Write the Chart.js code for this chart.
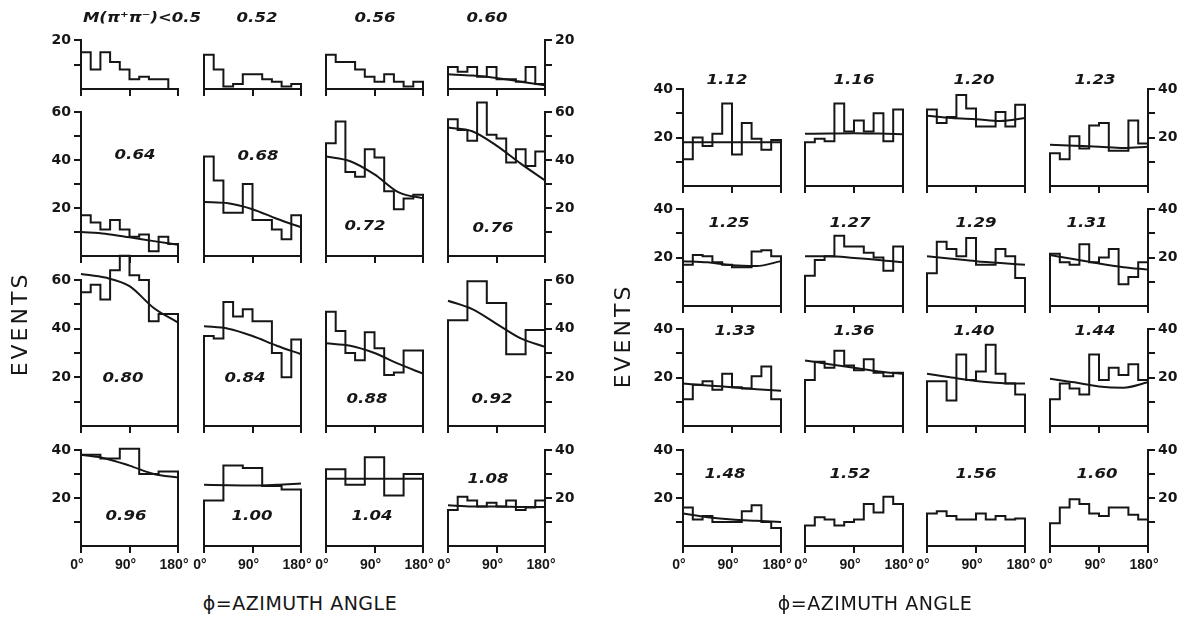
<!DOCTYPE html>
<html>
<head>
<meta charset="utf-8">
<script src="https://cdn.jsdelivr.net/npm/chart.js@4.4.1/dist/chart.umd.min.js"></script>
<style>
  html, body { margin: 0; padding: 0; background: #fff; }
  #page { position: relative; width: 1183px; height: 620px; overflow: hidden; background: #fff; }
  #page canvas { position: absolute; }
  .mass {
    position: absolute; white-space: nowrap; color: #161616;
    font: italic bold 14px "DejaVu Sans", sans-serif;
    transform: translate(-50%, -50%) scaleX(1.18);
  }
  .ytitle {
    position: absolute; white-space: nowrap; color: #161616;
    font: 22px "DejaVu Sans", sans-serif; letter-spacing: 3px;
    transform: translate(-50%, -50%) rotate(-90deg);
  }
  .xtitle {
    position: absolute; white-space: nowrap; color: #161616;
    font: 19px "DejaVu Sans", sans-serif; letter-spacing: 0.5px;
    transform: translate(-50%, -50%);
  }
</style>
</head>
<body>
<div id="page"></div>
<script>
// ---- azimuthal distributions, events per bin (bins span 0°..180°) ----
const h050 = [15, 8, 15, 11, 8, 4, 5, 4, 4, 0];
const h052 = [14, 8, 1, 2, 6, 6, 4, 3, 1, 2];
const h056 = [14, 11, 11, 8, 5, 3, 6, 3, 1, 3];
const h060 = [9, 7, 9, 5, 9, 4, 4, 3, 9, 2];
const h064 = [17, 14, 11, 15, 11, 8, 9, 2, 8, 5];
const h068 = [41.5, 31.5, 18, 18, 30, 15, 15, 11, 7, 17];
const h072 = [47, 56, 35, 33, 44.5, 41, 27, 19.5, 24, 25.5];
const h076 = [57, 52.5, 48, 64, 50.5, 49, 39, 44.5, 37.5, 43.5];
const h080 = [55, 58, 52, 64, 70, 62, 60, 43, 46, 46];
const h084 = [37, 36, 51, 45, 48, 43, 43, 30, 20, 35.5];
const h088 = [47, 39, 30, 27, 38.5, 32, 21, 22, 31, 31];
const h092 = [43.5, 59.5, 50.5, 29.5, 39.5];
const h096 = [38, 36.5, 40.5, 30, 31];
const h100 = [19, 33.5, 32.5, 25, 23.5];
const h104 = [32, 25.5, 37, 21, 30];
const h108 = [15, 20.5, 19, 16.5, 18, 16.5, 19, 15, 16, 19];

const h112 = [11, 20, 16.5, 21.5, 34, 13, 26, 19.5, 15, 19];
const h116 = [18, 19.5, 18.5, 34, 22.5, 27, 22.5, 30, 18.5, 31.5];
const h120 = [31.5, 26, 28.5, 37.5, 32, 24.5, 24.5, 30.5, 24.5, 33.5];
const h123 = [13.5, 11, 20.5, 15.5, 25, 26, 14.5, 14.5, 27, 17.5];
const h125 = [17, 21, 20.5, 18, 17, 16, 16, 22.5, 23, 20.5];
const h127 = [12.5, 19, 20.5, 29, 24.5, 24.5, 22, 20, 14.5, 24.5];
const h129 = [13.5, 26.5, 23.5, 20.5, 28, 17, 17, 23.5, 20.5, 11.5];
const h131 = [21.5, 18, 17, 25.5, 18, 20, 23.5, 9, 12, 18];
const h133 = [11, 17, 18.5, 15, 21.5, 16, 15.5, 20.5, 24.5, 11];
const h136 = [19, 26.5, 24, 31, 25, 23, 27.5, 22, 20.5, 22];
const h140 = [18.5, 18.5, 10.5, 29.5, 19, 22.5, 33.5, 21.5, 17.5, 13];
const h144 = [11, 17.5, 15.5, 13, 29.5, 19, 24, 21, 25.5, 19];
const h148 = [16, 11, 12.5, 10, 10, 10, 14.5, 17, 10, 7.5];
const h152 = [8.5, 12, 11, 8.5, 10, 11, 17.5, 14, 20.5, 17.5];
const h156 = [13.5, 14.5, 12.5, 11, 11, 13.5, 11, 12.5, 11, 11.5];
const h160 = [9.5, 16, 19.5, 17.5, 13.5, 12.5, 16, 16, 13, 11];

// ---- fitted curves, sampled at fitAngles ----
const fitAngles = [0, 45, 90, 135, 180];
const f060 = [6, 5.5, 4.5, 3, 1.5];
const f064 = [10, 9.3, 7.8, 6.2, 4.7];
const f068 = [22.5, 22, 19.5, 15.5, 12];
const f072 = [41.5, 39.5, 34, 26.5, 24];
const f076 = [53.5, 52, 46, 38.5, 31.5];
const f080 = [62.5, 61, 57.5, 48.5, 42.5];
const f084 = [41, 40, 37, 33, 29.5];
const f088 = [34, 33, 30, 25.5, 21.5];
const f092 = [51.5, 48, 42, 36, 32.5];
const f096 = [38, 36.5, 33.5, 30, 28.5];
const f100 = [25.5, 25.3, 25.2, 25.5, 26];
const f104 = [28, 28, 28, 28, 28];
const f108 = [17, 16.5, 16.5, 16.3, 16.2];
const f112 = [18, 18, 18, 18, 18];
const f116 = [21.5, 21.7, 21.8, 21.6, 21.3];
const f120 = [29, 28, 27.5, 26.8, 28];
const f123 = [17, 16.6, 16.2, 15.7, 16.2];
const f125 = [18.5, 18, 16.8, 16.5, 18.5];
const f127 = [20.5, 20.5, 19.8, 19, 18];
const f129 = [20.5, 19.5, 18.5, 17.7, 17];
const f131 = [21, 19.3, 17.5, 16, 15];
const f133 = [17.5, 16.7, 16, 15.2, 14.5];
const f136 = [27, 25.5, 24, 22.5, 21.5];
const f140 = [21.5, 20, 18.6, 17.7, 17.5];
const f144 = [19.5, 18, 16.3, 15.8, 18];
const f148 = [13.5, 12, 11, 10.5, 10];

// ---- mass-bin captions (GeV) ----
const leftMass = [
  ['M(π⁺π⁻)<0.5', '0.52', '0.56', '0.60'],
  ['0.64', '0.68', '0.72', '0.76'],
  ['0.80', '0.84', '0.88', '0.92'],
  ['0.96', '1.00', '1.04', '1.08']
];
const rightMass = [
  ['1.12', '1.16', '1.20', '1.23'],
  ['1.25', '1.27', '1.29', '1.31'],
  ['1.33', '1.36', '1.40', '1.44'],
  ['1.48', '1.52', '1.56', '1.60']
];

// ---- axis ticks ----
const xTickValues = [0, 90, 180];
const xTickLabels = ['0°', '90°', '180°'];
const yLabelledTicks = [20, 40, 60];
const yTitle = 'EVENTS';
const xTitle = 'ϕ=AZIMUTH ANGLE';

const leftHist = [
  [h050, h052, h056, h060],
  [h064, h068, h072, h076],
  [h080, h084, h088, h092],
  [h096, h100, h104, h108]
];
const leftFit = [
  [null, null, null, f060],
  [f064, f068, f072, f076],
  [f080, f084, f088, f092],
  [f096, f100, f104, f108]
];
const rightHist = [
  [h112, h116, h120, h123],
  [h125, h127, h129, h131],
  [h133, h136, h140, h144],
  [h148, h152, h156, h160]
];
const rightFit = [
  [f112, f116, f120, f123],
  [f125, f127, f129, f131],
  [f133, f136, f140, f144],
  [f148, null, null, null]
];

// ---- page layout (pixels) ----
const leftGroup = {
  cols: [81, 204, 326, 448], width: 97,
  rows: [
    { top: 40, base: 89, max: 20 },
    { top: 112, base: 256, max: 60 },
    { top: 280, base: 426, max: 60 },
    { top: 450, base: 546, max: 40 }
  ],
  labelPos: [
    [[142, 17], [257, 17], [375, 17], [487, 17]],
    [[135, 154], [258, 155], [365, 225], [493, 227]],
    [[123, 377], [245, 377], [367, 398], [492, 398]],
    [[126, 515], [252, 515], [372, 515], [488, 478]]
  ],
  yTitlePos: [19, 324], xTitlePos: [300, 603]
};
const rightGroup = {
  cols: [683, 805, 927, 1050], width: 98,
  rows: [
    { top: 89, base: 186, max: 40 },
    { top: 209, base: 306, max: 40 },
    { top: 329, base: 426, max: 40 },
    { top: 450, base: 546, max: 40 }
  ],
  labelPos: [
    [[727, 79], [854, 79], [974, 79], [1095, 79]],
    [[729, 222], [850, 222], [976, 222], [1087, 222]],
    [[735, 330], [854, 330], [974, 330], [1095, 330]],
    [[725, 473], [850, 473], [976, 473], [1097, 473]]
  ],
  yTitlePos: [622, 336], xTitlePos: [875, 603]
};

const ink = '#161616';
const page = document.getElementById('page');

// step outline of a histogram: closed down to the baseline on both ends
function histPoints(vals) {
  const n = vals.length, bw = 180 / n;
  const pts = [{ x: 0, y: 0 }, { x: 0, y: vals[0] }];
  for (let i = 1; i < n; i++) pts.push({ x: i * bw, y: vals[i] });
  pts.push({ x: 180, y: 0 });
  return pts;
}

function addPanel(group, r, c, hist, fit) {
  const padL = 46, padR = 46, padT = 40, padB = 30;
  const row = group.rows[r];
  const x0 = group.cols[c], w = group.width;
  const plotH = row.base - row.top;
  const cv = document.createElement('canvas');
  cv.width = w + padL + padR;
  cv.height = plotH + padT + padB;
  cv.style.left = (x0 - padL) + 'px';
  cv.style.top = (row.top - padT) + 'px';
  page.appendChild(cv);

  const isBottom = r === 3;
  const axisSide = c === 0 ? 'left' : (c === 3 ? 'right' : null);

  const datasets = [{
    data: histPoints(hist),
    borderColor: ink, borderWidth: 2, pointRadius: 0,
    stepped: true, fill: false, clip: false, tension: 0
  }];
  if (fit) {
    datasets.push({
      data: fitAngles.map((a, i) => ({ x: a, y: fit[i] })),
      borderColor: ink, borderWidth: 2, pointRadius: 0,
      cubicInterpolationMode: 'monotone', fill: false, clip: false
    });
  }

  new Chart(cv, {
    type: 'line',
    data: { datasets },
    options: {
      responsive: false, animation: false, devicePixelRatio: 1,
      layout: { padding: {
        left: axisSide === 'left' ? 0 : padL,
        right: axisSide === 'right' ? 0 : padR,
        top: padT, bottom: 0 } },
      plugins: { legend: { display: false }, tooltip: { enabled: false } },
      scales: {
        x: {
          type: 'linear', min: 0, max: 180,
          afterBuildTicks: s => { s.ticks = xTickValues.map(v => ({ value: v })); },
          afterFit: s => { s.height = padB; },
          grid: { drawOnChartArea: false, drawTicks: true, tickLength: 7, color: ink, lineWidth: 2 },
          border: { display: true, color: ink, width: 2 },
          ticks: {
            display: isBottom, maxRotation: 0, autoSkip: false, padding: 4, labelOffset: -4,
            color: ink, font: { family: 'Liberation Sans', weight: 'bold', size: 14 },
            callback: v => xTickLabels[xTickValues.indexOf(v)]
          }
        },
        y: {
          type: 'linear', min: 0, max: row.max,
          display: axisSide !== null,
          position: axisSide || 'left',
          afterFit: s => {
            if (axisSide === 'left') s.width = padL;
            else if (axisSide === 'right') s.width = padR;
            else s.width = 0;
          },
          grid: {
            drawOnChartArea: false, drawTicks: true, tickLength: 7, lineWidth: 2,
            color: ink,
            tickColor: ctx => (ctx.tick && ctx.tick.value === 0) ? 'rgba(0,0,0,0)' : ink
          },
          border: { display: true, color: ink, width: 2 },
          ticks: {
            stepSize: 10, padding: 3, color: ink,
            font: { family: 'DejaVu Sans', weight: 'bold', size: 14 },
            callback: v => yLabelledTicks.includes(v) ? String(v) : ''
          }
        }
      }
    }
  });
}

function addText(cls, text, pos) {
  const d = document.createElement('div');
  d.className = cls;
  d.textContent = text;
  d.style.left = pos[0] + 'px';
  d.style.top = pos[1] + 'px';
  page.appendChild(d);
}

function buildGroup(group, hists, fits, masses) {
  for (let r = 0; r < 4; r++) {
    for (let c = 0; c < 4; c++) {
      addPanel(group, r, c, hists[r][c], fits[r][c]);
      addText('mass', masses[r][c], group.labelPos[r][c]);
    }
  }
  addText('ytitle', yTitle, group.yTitlePos);
  addText('xtitle', xTitle, group.xTitlePos);
}

buildGroup(leftGroup, leftHist, leftFit, leftMass);
buildGroup(rightGroup, rightHist, rightFit, rightMass);
</script>
</body>
</html>
